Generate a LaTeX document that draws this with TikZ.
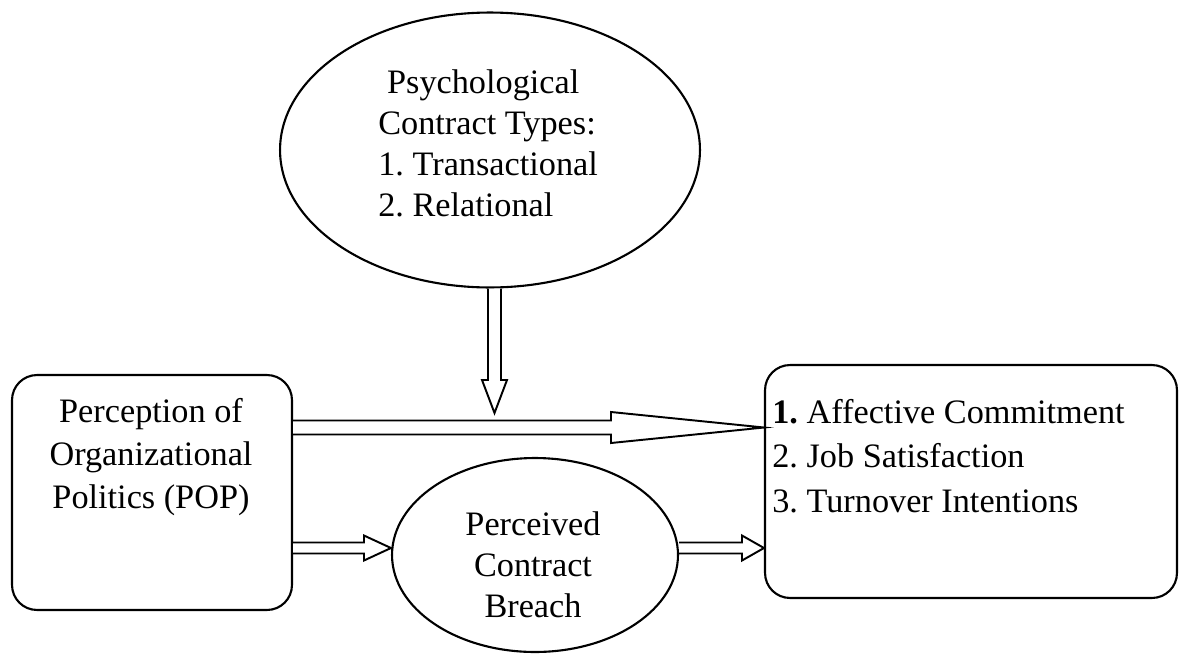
\documentclass[tikz,border=0pt]{standalone}
\usepackage{fontspec}
\setmainfont{Liberation Serif}
\usetikzlibrary{shapes.geometric, calc}
\tikzset{
  box/.style={rectangle, draw, line width=1.2pt, rounded corners=0.5cm, inner sep=0pt},
  oval/.style={ellipse, draw, line width=1.2pt, inner sep=0pt},
  txt/.style={inner sep=0pt, font=\fontsize{19.5}{24.5}\selectfont},
  hollow/.style={draw, line width=1.1pt, line join=miter, fill=white},
}
% hollow block arrows: from, to, shaft half width, head half width, head length
\newcommand{\rightblock}[5]{%
  \draw[hollow] let \p1=#1, \p2=#2 in
    (\x1,\y1+#3) -- (\x2-#5,\y1+#3) -- (\x2-#5,\y1+#4) -- (\x2,\y1)
    -- (\x2-#5,\y1-#4) -- (\x2-#5,\y1-#3) -- (\x1,\y1-#3);}
\newcommand{\downblock}[5]{%
  \draw[hollow] let \p1=#1, \p2=#2 in
    (\x1-#3,\y1) -- (\x1-#3,\y2+#5) -- (\x1-#4,\y2+#5) -- (\x1,\y2)
    -- (\x1+#4,\y2+#5) -- (\x1+#3,\y2+#5) -- (\x1+#3,\y1);}
\begin{document}
\begin{tikzpicture}[x=0.02cm, y=-0.02cm]
  \useasboundingbox (0,0) rectangle (1179,656);
  % boxes and ovals
  \node[oval, minimum width=8.4cm, minimum height=5.5cm] (pct) at (490,150) {};
  \node[box, minimum width=5.6cm, minimum height=4.7cm] (pop) at (152,492.5) {};
  \node[box, minimum width=8.24cm, minimum height=4.66cm] (out) at (971,481.5) {};
  \node[oval, minimum width=5.72cm, minimum height=3.88cm] (pcb) at (535,555) {};
  % texts
  \node[txt, align=left, anchor=north west, font=\fontsize{19.5}{23.5}\selectfont] (pcttext) at (378,69)
    {\hspace{5pt}Psychological\\Contract Types:\\1.\ Transactional\\2.\ Relational};
  \node[txt, align=center, anchor=north] (poptext) at (151,398)
    {Perception of\\Organizational\\Politics (POP)};
  \node[txt, align=left, anchor=north west, font=\fontsize{19.5}{25.2}\selectfont] (outtext) at (772,399)
    {\textbf{1.}\ Affective Commitment\\2.\ Job Satisfaction\\3.\ Turnover Intentions};
  \node[txt, align=center, anchor=north, font=\fontsize{19.5}{23.5}\selectfont] (pcbtext) at (533,511)
    {Perceived\\Contract\\Breach};
  % arrows
  \coordinate (mainlvl) at (0,427.5);
  \coordinate (sidelvl) at (0,548);
  \coordinate (downtip) at (494.5,413);
  \rightblock{(pop.east |- mainlvl)}{(out.west |- mainlvl)}{0.14cm}{0.31cm}{3.06cm}
  \downblock{(downtip |- pct.south)}{(downtip)}{0.13cm}{0.25cm}{0.66cm}
  \rightblock{(pop.east |- sidelvl)}{(pcb.west |- sidelvl)}{0.11cm}{0.25cm}{0.54cm}
  \rightblock{(pcb.east |- sidelvl)}{(out.west |- sidelvl)}{0.11cm}{0.25cm}{0.44cm}
\end{tikzpicture}
\end{document}
